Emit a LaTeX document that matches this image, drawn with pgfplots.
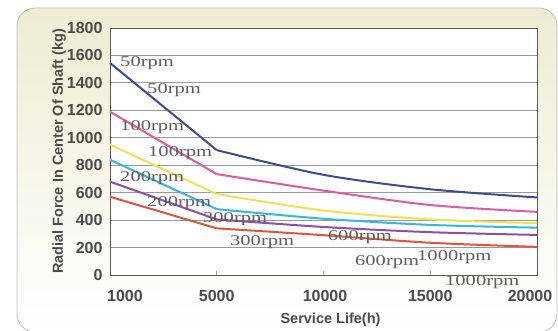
\documentclass[border=0pt]{standalone}
\usepackage{fontspec}
\setmainfont{Liberation Serif}
\setsansfont{Liberation Sans}
\usepackage{pgfplots}
\usepackage{pgfplotstable}
\pgfplotsset{compat=1.18}

\definecolor{cream}{RGB}{238,236,210}
\definecolor{framegray}{RGB}{190,190,190}
\definecolor{cblue}{RGB}{60,75,150}
\definecolor{cpink}{RGB}{225,90,160}
\definecolor{cyellow}{RGB}{240,225,80}
\definecolor{ccyan}{RGB}{50,185,225}
\definecolor{cpurple}{RGB}{140,80,170}
\definecolor{cred}{RGB}{225,85,60}
\definecolor{txtgray}{RGB}{75,75,75}
\definecolor{lblgray}{RGB}{95,95,95}

% radial force (kg) against service life; idx is the position along the axis
\pgfplotstableread{
idx life  rpm50 rpm100 rpm200 rpm300 rpm600 rpm1000
0   1000  1545  1190   950    840    680    570
1   5000  910   735    590    480    405    340
2   10000 730   615    470    410    350    290
3   15000 625   510    405    365    312    235
4   20000 565   460    378    345    292    205
}\forcedata

\begin{document}
\begin{tikzpicture}[x=1pt,y=1pt,
  lbl/.style={anchor=west,inner sep=0pt,text=lblgray,font=\fontsize{15}{15}\selectfont}]
\path[use as bounding box] (0,0) rectangle (558,331);
% panel behind the chart
\shade[top color=cream,middle color=cream,bottom color=white,rounded corners=18pt,draw=framegray,line width=0.8pt]
  (17,-1) rectangle (557,323);
\begin{axis}[
  at={(110pt,56pt)}, anchor=south west,
  width=427pt, height=247pt, scale only axis,
  clip=false,
  xmin=0, xmax=4, ymin=0, ymax=1800,
  xtick={0,1,2,3,4},
  xticklabels={{\hspace*{30pt}1000},5000,{\hspace*{3pt}10000},15000,{20000\hspace*{14pt}}},
  ytick={0,200,...,1800},
  axis background/.style={fill=white},
  axis line style={draw=black!65,line width=0.9pt},
  ymajorgrids, grid style={draw=black!40,line width=0.9pt},
  xtick pos=bottom, ytick pos=left, tick align=inside,
  major x tick style={draw=black!35,line width=0.6pt},
  major tick length=4pt,
  major y tick style={draw=none},
  ticklabel style={font=\sffamily\bfseries\fontsize{16}{16}\selectfont,text=txtgray},
  yticklabel style={xshift=-4pt},
  xticklabel style={yshift=-12pt},
  /pgf/number format/assume math mode=true,
  /pgf/number format/1000 sep={},
  xlabel={Service Life(h)},
  ylabel={Radial Force In Center Of Shaft (kg)},
  label style={font=\sffamily\bfseries\fontsize{14.5}{15}\selectfont,text=txtgray},
  xlabel style={yshift=-4pt,xshift=7pt},
  ylabel style={yshift=-6pt},
  every axis plot/.append style={line width=2pt,mark=none},
]
% steep straight part between 1000 h and 5000 h
\addplot[cblue,   restrict x to domain=0:1] table[x=idx,y=rpm50]   {\forcedata};
\addplot[cpink,   restrict x to domain=0:1] table[x=idx,y=rpm100]  {\forcedata};
\addplot[cyellow, restrict x to domain=0:1] table[x=idx,y=rpm200]  {\forcedata};
\addplot[ccyan,   restrict x to domain=0:1] table[x=idx,y=rpm300]  {\forcedata};
\addplot[cpurple, restrict x to domain=0:1] table[x=idx,y=rpm600]  {\forcedata};
\addplot[cred,    restrict x to domain=0:1] table[x=idx,y=rpm1000] {\forcedata};
% smooth tail from 5000 h on
\addplot[cblue,   smooth, restrict x to domain=1:4] table[x=idx,y=rpm50]   {\forcedata};
\addplot[cpink,   smooth, restrict x to domain=1:4] table[x=idx,y=rpm100]  {\forcedata};
\addplot[cyellow, smooth, restrict x to domain=1:4] table[x=idx,y=rpm200]  {\forcedata};
\addplot[ccyan,   smooth, restrict x to domain=1:4] table[x=idx,y=rpm300]  {\forcedata};
\addplot[cpurple, smooth, restrict x to domain=1:4] table[x=idx,y=rpm600]  {\forcedata};
\addplot[cred,    smooth, restrict x to domain=1:4] table[x=idx,y=rpm1000] {\forcedata};

\node[lbl] at (axis cs:0.094,1545) {\scalebox{1.37}[1]{50rpm}};
\node[lbl] at (axis cs:0.347,1348) {\scalebox{1.37}[1]{50rpm}};
\node[lbl] at (axis cs:0.094,1079) {\scalebox{1.37}[1]{100rpm}};
\node[lbl] at (axis cs:0.356,889)  {\scalebox{1.37}[1]{100rpm}};
\node[lbl] at (axis cs:0.094,707)  {\scalebox{1.37}[1]{200rpm}};
\node[lbl] at (axis cs:0.347,525)  {\scalebox{1.37}[1]{200rpm}};
\node[lbl] at (axis cs:0.871,410)  {\scalebox{1.37}[1]{300rpm}};
\node[lbl] at (axis cs:1.124,240)  {\scalebox{1.37}[1]{300rpm}};
\node[lbl] at (axis cs:2.04,277)   {\scalebox{1.37}[1]{600rpm}};
\node[lbl] at (axis cs:2.295,95)   {\scalebox{1.37}[1]{600rpm}};
\node[lbl] at (axis cs:2.876,131)  {\scalebox{1.37}[1]{1000rpm}};
\node[lbl] at (axis cs:3.138,-51)  {\scalebox{1.37}[1]{1000rpm}};
\end{axis}
\end{tikzpicture}
\end{document}
